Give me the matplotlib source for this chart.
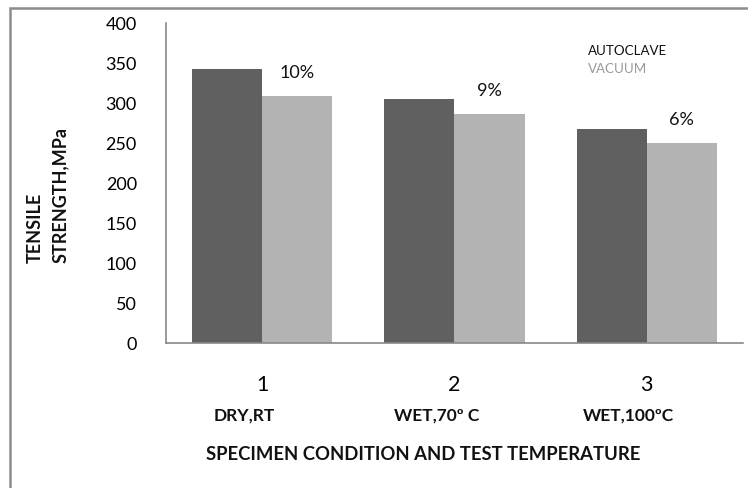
import matplotlib
matplotlib.use("Agg")
import matplotlib.pyplot as plt
import numpy as np
from matplotlib.patches import Rectangle

categories = ["1", "2", "3"]
conditions = ["DRY,RT", "WET,70º C", "WET,100ºC"]
autoclave = [342, 305, 267]
vacuum = [309, 286, 250]
pct_labels = ["10%", "9%", "6%"]
yticks = [0, 50, 100, 150, 200, 250, 300, 350, 400]

plt.rcParams['font.family'] = ['Lato', 'DejaVu Sans']

W, H = 748, 488
fig = plt.figure(figsize=(W / 100, H / 100), dpi=100)
ax = fig.add_axes([166 / W, 1 - 343 / H, (743 - 166) / W, (343 - 23) / H])

x = np.arange(len(categories))
bw = 0.364
ax.bar(x - bw / 2, autoclave, width=bw, color="#606060", label="AUTOCLAVE")
ax.bar(x + bw / 2, vacuum, width=bw, color="#b3b3b3", label="VACUUM")

for xi, v, t in zip(x, vacuum, pct_labels):
    ax.text(xi + bw / 2, v + 29, t, ha="center", va="center", fontsize=13, color="#111111")

ax.set_xlim(-0.5, 2.5)
ax.set_ylim(0, 400)
ax.set_yticks(yticks)
ax.set_yticklabels([str(v) for v in yticks], fontsize=13)
ax.set_xticks(x)
ax.set_xticklabels(categories, fontsize=15.5)
ax.tick_params(axis="y", length=0, pad=21)
ax.tick_params(axis="x", length=0, pad=23)
for s in ["top", "right"]:
    ax.spines[s].set_visible(False)
ax.spines["left"].set_color("#888888")
ax.spines["bottom"].set_color("#888888")
ax.spines["left"].set_linewidth(1.2)
ax.spines["bottom"].set_linewidth(1.2)

# condition labels below tick numbers
trans = ax.get_xaxis_transform()
for xi, c in zip(x, conditions):
    ax.text(xi - 0.095, -(416 - 343) / 320, c, transform=trans, ha="center", va="center",
            fontsize=12.5, fontweight="bold", color="#111111")

fig.text(423 / W, 1 - 455 / H, "SPECIMEN CONDITION AND TEST TEMPERATURE", ha="center", va="center",
         fontsize=13.3, fontweight="bold", color="#111111")

fig.text(48 / W, 1 - 263 / H, "TENSILE\nSTRENGTH,MPa", rotation=90, ha="center", va="bottom",
         multialignment="left", fontsize=13, fontweight="bold", color="#111111", linespacing=1.55)

# legend as text
fig.text(588 / W, 1 - 51 / H, "AUTOCLAVE", ha="left", va="center", fontsize=9.6, color="#111111")
fig.text(588 / W, 1 - 69 / H, "VACUUM", ha="left", va="center", fontsize=9.6, color="#999999")

# outer frame
fig.patches.append(Rectangle((10 / W, -0.1), 1.2, 1 - 8 / H + 0.1, transform=fig.transFigure,
                             fill=False, edgecolor="#8c8c8c", linewidth=1.8))

fig.savefig("out.png", dpi=100)
